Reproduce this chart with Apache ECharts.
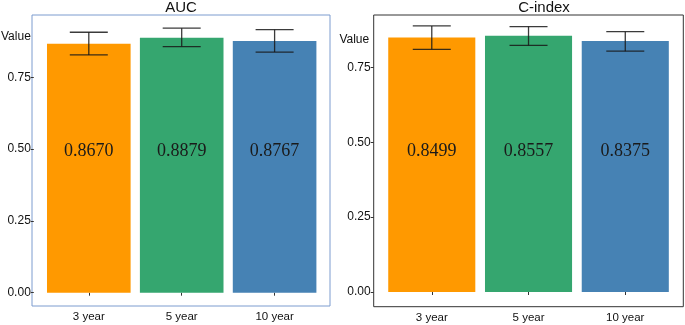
<!DOCTYPE html>
<html>
<head>
<meta charset="utf-8">
<script src="https://cdn.jsdelivr.net/npm/echarts@6/dist/echarts.min.js"></script>
<style>html,body{margin:0;padding:0;background:#fff}#c{width:685px;height:325px}</style>
</head>
<body>
<div id="c"></div>
<script>
const categories = ['3 year', '5 year', '10 year'];
const aucValues = [0.8670, 0.8879, 0.8767];
const aucLow = [0.828, 0.857, 0.838];
const aucHigh = [0.907, 0.921, 0.916];
const cindexValues = [0.8499, 0.8557, 0.8375];
const cindexLow = [0.810, 0.823, 0.804];
const cindexHigh = [0.888, 0.886, 0.869];
const yTicks = [0, 0.25, 0.5, 0.75];
const barColors = ['#FF9900', '#35A66F', '#4682B4'];

const FONT = '"Liberation Sans", Arial, sans-serif';
const chart = echarts.init(document.getElementById('c'), null, {renderer: 'canvas'});

function errData(lo, hi) { return lo.map((l, i) => [i, l, hi[i]]); }
function errRender(params, api) {
  const x = api.value(0);
  const top = api.coord([x, api.value(2)]);
  const bot = api.coord([x, api.value(1)]);
  const hw = 19;
  const style = {stroke: 'rgba(25,25,25,0.85)', lineWidth: 1.3, fill: null};
  return {type: 'group', children: [
    {type: 'line', shape: {x1: top[0], y1: top[1], x2: bot[0], y2: bot[1]}, style},
    {type: 'line', shape: {x1: top[0] - hw, y1: top[1], x2: top[0] + hw, y2: top[1]}, style},
    {type: 'line', shape: {x1: bot[0] - hw, y1: bot[1], x2: bot[0] + hw, y2: bot[1]}, style}
  ]};
}

function yAxisDef(grid, max, offset, nameGap, namePad) {
  return {
    type: 'value', gridIndex: grid, min: 0, max: max, interval: 0.25, offset: offset,
    name: 'Value', nameLocation: 'end', nameGap: nameGap,
    nameTextStyle: {fontFamily: FONT, fontSize: 12, color: '#111', align: 'right', verticalAlign: 'middle', padding: [0, namePad, 0, 0]},
    axisLine: {show: false},
    axisTick: {show: true, length: 3, lineStyle: {color: '#333'}, customValues: yTicks},
    axisLabel: {fontFamily: FONT, fontSize: 12, color: '#111', margin: 3, customValues: yTicks,
      formatter: v => v.toFixed(2)},
    splitLine: {show: false}
  };
}
function xAxisDef(grid, offset) {
  return {
    type: 'category', gridIndex: grid, data: categories, offset: offset,
    axisLine: {show: false},
    axisTick: {show: true, length: 3, alignWithLabel: true, lineStyle: {color: '#333'}},
    axisLabel: {fontFamily: FONT, fontSize: 11.5, color: '#111', margin: 5},
    splitLine: {show: false}
  };
}
function barSeries(idx, vals) {
  return {
    type: 'bar', xAxisIndex: idx, yAxisIndex: idx, barWidth: '90%',
    data: vals.map((v, i) => ({value: v, itemStyle: {color: barColors[i]}})),
    label: {show: true, position: 'insideBottom', distance: 132,
      fontFamily: '"Liberation Serif", "DejaVu Serif", serif', fontSize: 18, color: '#1a1a1a',
      formatter: p => p.value.toFixed(4)},
    z: 2
  };
}

const option = {
  animation: false,
  backgroundColor: '#fff',
  title: [
    {text: 'AUC', left: 181, top: 0, padding: 0, textAlign: 'center',
      textStyle: {fontFamily: FONT, fontSize: 15, fontWeight: 'normal', color: '#111'}},
    {text: 'C-index', left: 544, top: 0, padding: 0, textAlign: 'center',
      textStyle: {fontFamily: FONT, fontSize: 15, fontWeight: 'normal', color: '#111'}}
  ],
  grid: [
    {left: 32, top: 15, width: 298, height: 291, show: true, borderColor: '#7C9CCF', borderWidth: 1, backgroundColor: 'transparent'},
    {left: 40.55, top: 15, width: 280.5, height: 277.7},
    {left: 373.7, top: 15, width: 309.6, height: 291.7, show: true, borderColor: '#333', borderWidth: 1, backgroundColor: 'transparent'},
    {left: 383.4, top: 15, width: 290.25, height: 277}
  ],
  xAxis: [
    {type: 'value', gridIndex: 0, show: false},
    xAxisDef(1, 13.3),
    {type: 'value', gridIndex: 2, show: false},
    xAxisDef(3, 14.7)
  ],
  yAxis: [
    {type: 'value', gridIndex: 0, show: false},
    yAxisDef(1, 0.967, 8.55, -22, 3),
    {type: 'value', gridIndex: 2, show: false},
    yAxisDef(3, 0.9246, 9.7, -25, 4.5)
  ],
  series: [
    barSeries(1, aucValues),
    {type: 'custom', xAxisIndex: 1, yAxisIndex: 1, renderItem: errRender, data: errData(aucLow, aucHigh), encode: {x: 0, y: [1, 2]}, z: 3},
    barSeries(3, cindexValues),
    {type: 'custom', xAxisIndex: 3, yAxisIndex: 3, renderItem: errRender, data: errData(cindexLow, cindexHigh), encode: {x: 0, y: [1, 2]}, z: 3}
  ]
};
chart.setOption(option);
</script>
</body>
</html>
